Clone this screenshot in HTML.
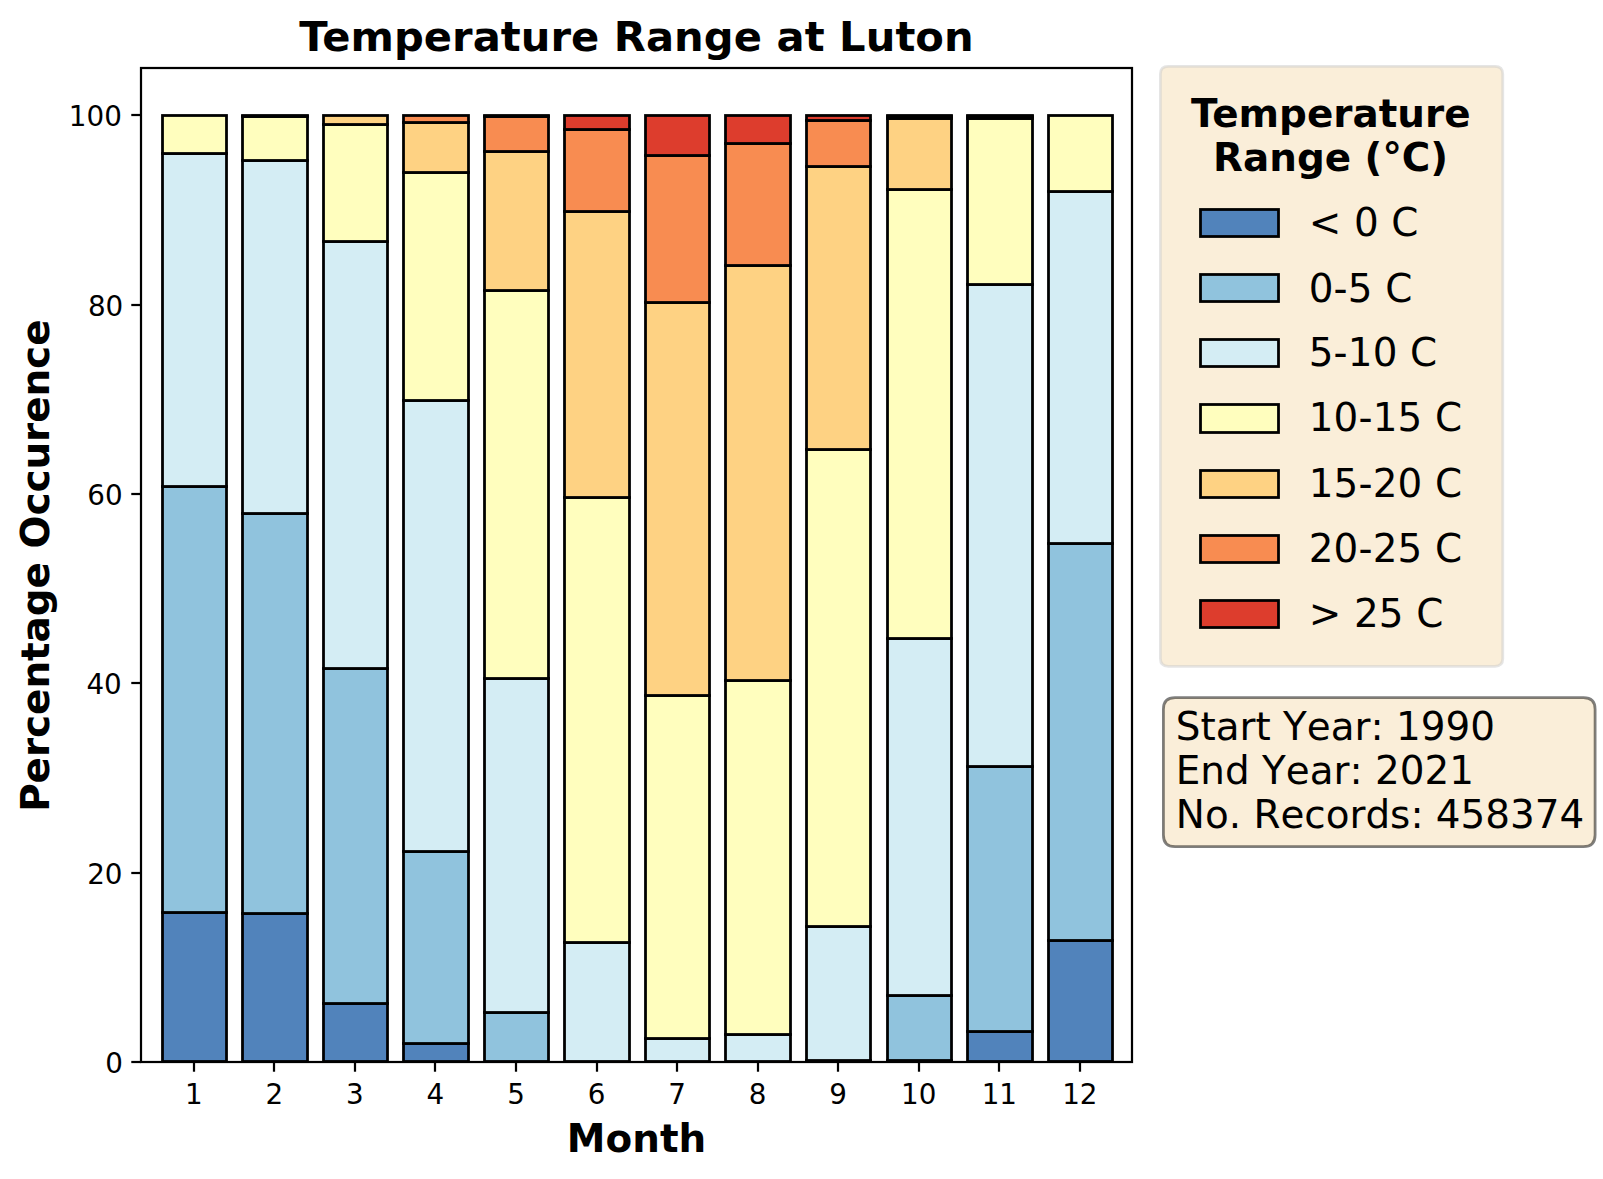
<!DOCTYPE html>
<html lang="en"><head><meta charset="utf-8"><title>Temperature Range at Luton</title>
<style>html,body{margin:0;padding:0;background:#fff}svg{display:block}</style></head>
<body>
<svg width="1603" height="1179" viewBox="0 0 1603 1179" font-family="'DejaVu Sans', 'Liberation Sans', sans-serif">
<rect width="1603" height="1179" fill="#fff"/>
<g fill="#5183bb" stroke="#000" stroke-width="2.78" stroke-linejoin="miter">
<rect x="162.5" y="912.5" width="64.0" height="149.0"/>
<rect x="242.5" y="913.5" width="65.0" height="148.0"/>
<rect x="323.5" y="1003.5" width="64.0" height="58.0"/>
<rect x="403.5" y="1043.5" width="65.0" height="18.0"/>
<rect x="887.5" y="1060.5" width="64.0" height="1.0"/>
<rect x="967.5" y="1031.5" width="65.0" height="30.0"/>
<rect x="1048.5" y="940.5" width="64.0" height="121.0"/>
</g>
<g fill="#90c3dd" stroke="#000" stroke-width="2.78" stroke-linejoin="miter">
<rect x="162.5" y="486.5" width="64.0" height="426.0"/>
<rect x="242.5" y="513.5" width="65.0" height="400.0"/>
<rect x="323.5" y="668.5" width="64.0" height="335.0"/>
<rect x="403.5" y="851.5" width="65.0" height="192.0"/>
<rect x="484.5" y="1012.5" width="64.0" height="49.0"/>
<rect x="806.5" y="1060.5" width="64.0" height="1.0"/>
<rect x="887.5" y="995.5" width="64.0" height="65.0"/>
<rect x="967.5" y="766.5" width="65.0" height="265.0"/>
<rect x="1048.5" y="543.5" width="64.0" height="397.0"/>
</g>
<g fill="#d4edf4" stroke="#000" stroke-width="2.78" stroke-linejoin="miter">
<rect x="162.5" y="153.5" width="64.0" height="333.0"/>
<rect x="242.5" y="160.5" width="65.0" height="353.0"/>
<rect x="323.5" y="241.5" width="64.0" height="427.0"/>
<rect x="403.5" y="400.5" width="65.0" height="451.0"/>
<rect x="484.5" y="678.5" width="64.0" height="334.0"/>
<rect x="564.5" y="942.5" width="65.0" height="119.0"/>
<rect x="645.5" y="1038.5" width="64.0" height="23.0"/>
<rect x="725.5" y="1034.5" width="65.0" height="27.0"/>
<rect x="806.5" y="926.5" width="64.0" height="134.0"/>
<rect x="887.5" y="638.5" width="64.0" height="357.0"/>
<rect x="967.5" y="284.5" width="65.0" height="482.0"/>
<rect x="1048.5" y="191.5" width="64.0" height="352.0"/>
</g>
<g fill="#fffebe" stroke="#000" stroke-width="2.78" stroke-linejoin="miter">
<rect x="162.5" y="115.5" width="64.0" height="38.0"/>
<rect x="242.5" y="116.5" width="65.0" height="44.0"/>
<rect x="323.5" y="124.5" width="64.0" height="117.0"/>
<rect x="403.5" y="172.5" width="65.0" height="228.0"/>
<rect x="484.5" y="290.5" width="64.0" height="388.0"/>
<rect x="564.5" y="497.5" width="65.0" height="445.0"/>
<rect x="645.5" y="695.5" width="64.0" height="343.0"/>
<rect x="725.5" y="680.5" width="65.0" height="354.0"/>
<rect x="806.5" y="449.5" width="64.0" height="477.0"/>
<rect x="887.5" y="189.5" width="64.0" height="449.0"/>
<rect x="967.5" y="118.5" width="65.0" height="166.0"/>
<rect x="1048.5" y="115.5" width="64.0" height="76.0"/>
</g>
<g fill="#fed283" stroke="#000" stroke-width="2.78" stroke-linejoin="miter">
<rect x="242.5" y="115.5" width="65.0" height="1.0"/>
<rect x="323.5" y="115.5" width="64.0" height="9.0"/>
<rect x="403.5" y="122.5" width="65.0" height="50.0"/>
<rect x="484.5" y="151.5" width="64.0" height="139.0"/>
<rect x="564.5" y="211.5" width="65.0" height="286.0"/>
<rect x="645.5" y="302.5" width="64.0" height="393.0"/>
<rect x="725.5" y="265.5" width="65.0" height="415.0"/>
<rect x="806.5" y="166.5" width="64.0" height="283.0"/>
<rect x="887.5" y="118.5" width="64.0" height="71.0"/>
<rect x="967.5" y="116.5" width="65.0" height="2.0"/>
</g>
<g fill="#f88c51" stroke="#000" stroke-width="2.78" stroke-linejoin="miter">
<rect x="403.5" y="115.5" width="65.0" height="7.0"/>
<rect x="484.5" y="116.5" width="64.0" height="35.0"/>
<rect x="564.5" y="129.5" width="65.0" height="82.0"/>
<rect x="645.5" y="155.5" width="64.0" height="147.0"/>
<rect x="725.5" y="143.5" width="65.0" height="122.0"/>
<rect x="806.5" y="120.5" width="64.0" height="46.0"/>
<rect x="887.5" y="116.5" width="64.0" height="2.0"/>
<rect x="967.5" y="115.5" width="65.0" height="1.0"/>
</g>
<g fill="#dd3d2d" stroke="#000" stroke-width="2.78" stroke-linejoin="miter">
<rect x="484.5" y="115.5" width="64.0" height="1.0"/>
<rect x="564.5" y="115.5" width="65.0" height="14.0"/>
<rect x="645.5" y="115.5" width="64.0" height="40.0"/>
<rect x="725.5" y="115.5" width="65.0" height="28.0"/>
<rect x="806.5" y="115.5" width="64.0" height="5.0"/>
<rect x="887.5" y="115.5" width="64.0" height="1.0"/>
</g>
<g stroke="#000" stroke-width="2.22">
<line x1="194.00" y1="1062.0" x2="194.00" y2="1071.72"/>
<line x1="274.00" y1="1062.0" x2="274.00" y2="1071.72"/>
<line x1="355.00" y1="1062.0" x2="355.00" y2="1071.72"/>
<line x1="435.00" y1="1062.0" x2="435.00" y2="1071.72"/>
<line x1="516.00" y1="1062.0" x2="516.00" y2="1071.72"/>
<line x1="597.00" y1="1062.0" x2="597.00" y2="1071.72"/>
<line x1="677.00" y1="1062.0" x2="677.00" y2="1071.72"/>
<line x1="758.00" y1="1062.0" x2="758.00" y2="1071.72"/>
<line x1="838.00" y1="1062.0" x2="838.00" y2="1071.72"/>
<line x1="919.00" y1="1062.0" x2="919.00" y2="1071.72"/>
<line x1="999.00" y1="1062.0" x2="999.00" y2="1071.72"/>
<line x1="1080.00" y1="1062.0" x2="1080.00" y2="1071.72"/>
<line x1="141.0" y1="1062.00" x2="131.28" y2="1062.00"/>
<line x1="141.0" y1="873.00" x2="131.28" y2="873.00"/>
<line x1="141.0" y1="683.00" x2="131.28" y2="683.00"/>
<line x1="141.0" y1="494.00" x2="131.28" y2="494.00"/>
<line x1="141.0" y1="305.00" x2="131.28" y2="305.00"/>
<line x1="141.0" y1="115.00" x2="131.28" y2="115.00"/>
</g>
<rect x="141.0" y="68.0" width="991.00" height="994.00" fill="none" stroke="#000" stroke-width="2.22"/>
<g font-size="27.78" fill="#000">
<text x="193.80" y="1103.9" text-anchor="middle">1</text>
<text x="274.35" y="1103.9" text-anchor="middle">2</text>
<text x="354.90" y="1103.9" text-anchor="middle">3</text>
<text x="435.45" y="1103.9" text-anchor="middle">4</text>
<text x="516.00" y="1103.9" text-anchor="middle">5</text>
<text x="596.55" y="1103.9" text-anchor="middle">6</text>
<text x="677.10" y="1103.9" text-anchor="middle">7</text>
<text x="757.65" y="1103.9" text-anchor="middle">8</text>
<text x="838.20" y="1103.9" text-anchor="middle">9</text>
<text x="918.75" y="1103.9" text-anchor="middle">10</text>
<text x="999.30" y="1103.9" text-anchor="middle">11</text>
<text x="1079.85" y="1103.9" text-anchor="middle">12</text>
<text x="122.8" y="1072.50" text-anchor="end">0</text>
<text x="122.5" y="884.17" text-anchor="end">20</text>
<text x="121.8" y="693.83" text-anchor="end">40</text>
<text x="122.7" y="504.50" text-anchor="end">60</text>
<text x="123.3" y="316.16" text-anchor="end">80</text>
<text x="121.8" y="125.83" text-anchor="end">100</text>
</g>
<text x="636.50" y="50.9" font-size="41.67" font-weight="bold" letter-spacing="0.035" text-anchor="middle">Temperature Range at Luton</text>
<text x="636.50" y="1151.8" font-size="38.89" font-weight="bold" text-anchor="middle">Month</text>
<text transform="translate(49.3 565.70) rotate(-90)" letter-spacing="-0.04" font-size="38.89" font-weight="bold" text-anchor="middle">Percentage Occurence</text>
<path d="M1168.18,66.30 L1494.97,66.30 Q1502.75,66.30 1502.75,74.08 L1502.75,658.57 Q1502.75,666.35 1494.97,666.35 L1168.18,666.35 Q1160.40,666.35 1160.40,658.57 L1160.40,74.08 Q1160.40,66.30 1168.18,66.30 Z" fill="#f5deb3" fill-opacity="0.5" stroke="#cccccc" stroke-opacity="0.5" stroke-width="2.78"/>
<g font-size="38.89" font-weight="bold" text-anchor="middle"><text x="1330.7" y="126.9">Temperature</text><text x="1330.6" y="170.8">Range (°C)</text></g>
<rect x="1200.5" y="209.5" width="78" height="27" fill="#5183bb" stroke="#000" stroke-width="2.78"/>
<text x="1308.7" y="236.3" font-size="38.89" letter-spacing="0.15">&lt; 0 C</text>
<rect x="1200.5" y="274.5" width="78" height="27" fill="#90c3dd" stroke="#000" stroke-width="2.78"/>
<text x="1308.7" y="301.5" font-size="38.89" letter-spacing="0.15">0-5 C</text>
<rect x="1200.5" y="339.5" width="78" height="27" fill="#d4edf4" stroke="#000" stroke-width="2.78"/>
<text x="1308.7" y="365.7" font-size="38.89" letter-spacing="0.15">5-10 C</text>
<rect x="1200.5" y="404.5" width="78" height="28" fill="#fffebe" stroke="#000" stroke-width="2.78"/>
<text x="1308.7" y="431.3" font-size="38.89" letter-spacing="0.15">10-15 C</text>
<rect x="1200.5" y="470.5" width="78" height="27" fill="#fed283" stroke="#000" stroke-width="2.78"/>
<text x="1308.7" y="496.8" font-size="38.89" letter-spacing="0.15">15-20 C</text>
<rect x="1200.5" y="535.5" width="78" height="27" fill="#f88c51" stroke="#000" stroke-width="2.78"/>
<text x="1308.7" y="561.6" font-size="38.89" letter-spacing="0.15">20-25 C</text>
<rect x="1200.5" y="600.5" width="78" height="27" fill="#dd3d2d" stroke="#000" stroke-width="2.78"/>
<text x="1308.7" y="627.2" font-size="38.89" letter-spacing="0.15">&gt; 25 C</text>
<path d="M1175.07,697.70 L1583.43,697.70 Q1595.10,697.70 1595.10,709.37 L1595.10,834.93 Q1595.10,846.60 1583.43,846.60 L1175.07,846.60 Q1163.40,846.60 1163.40,834.93 L1163.40,709.37 Q1163.40,697.70 1175.07,697.70 Z" fill="#f5deb3" fill-opacity="0.5" stroke="#000" stroke-opacity="0.5" stroke-width="2.78"/>
<g font-size="38.89" style="font-kerning:none"><text x="1175.8" y="739.9">Start Year: 1990</text><text x="1175.8" y="783.9">End Year: 2021</text><text x="1175.8" y="828.0">No. Records: 458374</text></g>
</svg>
</body></html>
